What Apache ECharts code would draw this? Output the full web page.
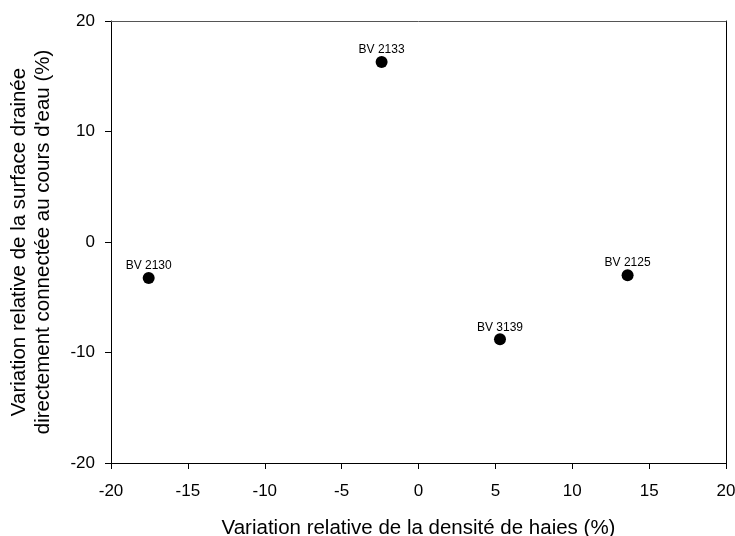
<!DOCTYPE html>
<html>
<head>
<meta charset="utf-8">
<script src="https://cdn.jsdelivr.net/npm/echarts@6/dist/echarts.min.js"></script>
<style>html,body{margin:0;padding:0;background:#fff}#c{width:735px;height:536px}</style>
</head>
<body>
<div id="c"></div>
<script>
const names = ['BV 2133', 'BV 2130', 'BV 3139', 'BV 2125'];
const xValues = [-2.4, -17.55, 5.3, 13.6];
const yValues = [16.3, -3.25, -8.8, -3.0];
const xTicks = [-20, -15, -10, -5, 0, 5, 10, 15, 20];
const yTicks = [-20, -10, 0, 10, 20];

const font = 'Liberation Sans, Arial, sans-serif';
const chart = echarts.init(document.getElementById('c'));
const data = names.map((n, i) => ({ name: n, value: [xValues[i], yValues[i]] }));
chart.setOption({
  animation: false,
  backgroundColor: '#fff',
  grid: { left: 111, right: 9, top: 21, bottom: 73, containLabel: false, outerBoundsMode: 'none' },
  xAxis: [{
    type: 'value', min: xTicks[0], max: xTicks[xTicks.length - 1], interval: 5,
    position: 'bottom',
    name: 'Variation relative de la densité de haies (%)',
    nameLocation: 'middle', nameGap: 55,
    nameTextStyle: { fontFamily: font, fontSize: 20.5, color: '#000' },
    axisLine: { onZero: false, lineStyle: { color: '#000', width: 1 } },
    axisTick: { show: true, length: 6, lineStyle: { color: '#000' } },
    axisLabel: { fontFamily: font, fontSize: 17, color: '#000', margin: 20 },
    splitLine: { show: false }
  }, {
    type: 'value', min: xTicks[0], max: xTicks[xTicks.length - 1], interval: 5,
    position: 'top',
    axisLine: { show: true, onZero: false, lineStyle: { color: '#555', width: 1 } },
    axisTick: { show: false }, axisLabel: { show: false }, splitLine: { show: false }
  }],
  yAxis: [{
    type: 'value', min: yTicks[0], max: yTicks[yTicks.length - 1], interval: 10,
    position: 'left',
    name: "Variation relative de la surface drainée\ndirectement connectée au cours d'eau (%)",
    nameLocation: 'middle', nameGap: 56, nameRotate: 90,
    nameTextStyle: { fontFamily: font, fontSize: 20.5, color: '#000', lineHeight: 24, align: 'center' },
    axisLine: { onZero: false, lineStyle: { color: '#000', width: 1 } },
    axisTick: { show: true, length: 6, lineStyle: { color: '#000' } },
    axisLabel: { fontFamily: font, fontSize: 17, color: '#000', margin: 16 },
    splitLine: { show: false }
  }, {
    type: 'value', min: yTicks[0], max: yTicks[yTicks.length - 1], interval: 10,
    position: 'right',
    axisLine: { show: true, onZero: false, lineStyle: { color: '#000', width: 1 } },
    axisTick: { show: false }, axisLabel: { show: false }, splitLine: { show: false }
  }],
  series: [{
    type: 'scatter',
    xAxisIndex: 0, yAxisIndex: 0,
    symbol: 'circle', symbolSize: 12,
    itemStyle: { color: '#000', opacity: 1 },
    data: data,
    label: {
      show: true, position: 'top', distance: 0,
      formatter: p => p.name,
      fontFamily: font, fontSize: 12, color: '#000'
    }
  }]
});
</script>
</body>
</html>
